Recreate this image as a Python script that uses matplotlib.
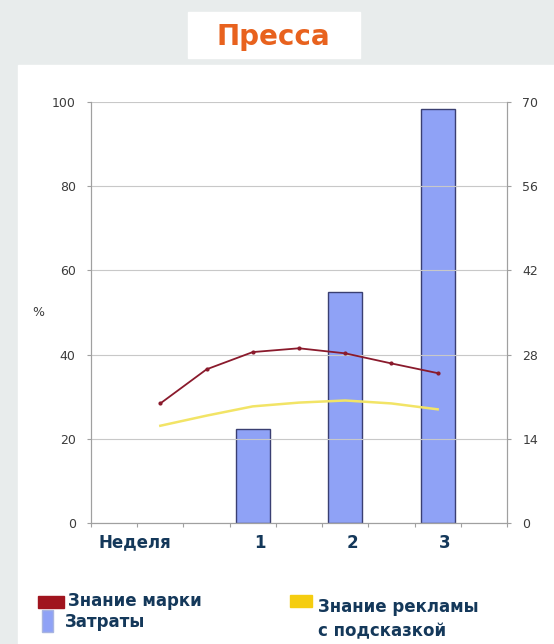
import matplotlib.pyplot as plt
from matplotlib.patches import Rectangle

# данные
weeks = ['Неделя', '', '', '1', '', '2', '', '3', '']
line_x = [1, 2, 3, 4, 5, 6, 7]
brand = [28.4, 36.5, 40.6, 41.5, 40.3, 37.9, 35.6]
ad_aided = [23.1, 25.5, 27.7, 28.6, 29.1, 28.4, 27.0]
bar_x = [3, 5, 7]
spend = [15.7, 38.4, 68.8]

navy = '#14385a'
gray_txt = '#3c3c3c'

fig = plt.figure(figsize=(5.54, 6.44), dpi=100)
fig.patch.set_facecolor('#e8ecec')

# белая подложка и плашка заголовка
fig.patches.append(Rectangle((18 / 554, 0), 1, (644 - 65) / 644,
                             transform=fig.transFigure, color='white', zorder=-5))
fig.patches.append(Rectangle((188 / 554, 1 - 58 / 644), 172 / 554, 46 / 644,
                             transform=fig.transFigure, color='white', zorder=-5))
fig.text(273 / 554, 1 - 37 / 644, 'Пресса', color='#e8621e', fontsize=20,
         fontweight='bold', ha='center', va='center')

ax = fig.add_axes([91 / 554, (644 - 523) / 644, 416 / 554, 421 / 644])
ax2 = ax.twinx()

ax2.bar(bar_x, spend, width=0.73, color='#8fa2f6', edgecolor='#3a3f72', linewidth=1)
ax2.set_ylim(0, 70)
ax2.set_yticks([0, 14, 28, 42, 56, 70])

ax.set_zorder(ax2.get_zorder() + 1)
ax.patch.set_visible(False)
ax.plot(line_x, brand, color='#8a1a2c', lw=1.3, marker='o', ms=2)
ax.plot(line_x, ad_aided, color='#f2e466', lw=1.8)
ax.set_ylim(0, 100)
ax.set_yticks([0, 20, 40, 60, 80, 100])
ax.set_xlim(-0.5, 8.5)
ax.grid(axis='y', color='#c8c8c8', lw=0.8)

ax.set_xticks([i + 0.5 for i in range(-1, 9)])
ax.set_xticklabels([])
ax.tick_params(axis='x', length=3, color='#a0a0a0')
for i, lab in enumerate(weeks):
    if lab:
        xx = i + 0.45 if i == 0 else i + 0.15
        ax.text(xx, -0.025, lab, transform=ax.get_xaxis_transform(), ha='center',
                va='top', fontsize=12, fontweight='bold', color=navy)

for a in (ax, ax2):
    a.spines['top'].set_visible(False)
    for s in ('left', 'right', 'bottom'):
        a.spines[s].set_color('#a0a0a0')
    a.tick_params(axis='y', labelsize=9, labelcolor=gray_txt, color='#a0a0a0', length=3)
ax2.tick_params(axis='y', pad=8)
ax.tick_params(axis='y', pad=8)

fig.text(38 / 554, 1 - 312 / 644, '%', fontsize=9, color=gray_txt, ha='center', va='center')

# легенда
fig.patches.append(Rectangle((38 / 554, 1 - 608 / 644), 26 / 554, 12 / 644,
                             transform=fig.transFigure, color='#a0141e'))
fig.patches.append(Rectangle((42 / 554, 1 - 632 / 644), 11 / 554, 22 / 644,
                             transform=fig.transFigure, facecolor='#8fa2f6', edgecolor='#a8b4e0'))
fig.patches.append(Rectangle((290 / 554, 1 - 607 / 644), 22 / 554, 12 / 644,
                             transform=fig.transFigure, color='#f5cd10'))
fig.text(68 / 554, 1 - 601 / 644, 'Знание марки', fontsize=12, fontweight='bold',
         color=navy, va='center')
fig.text(65 / 554, 1 - 622 / 644, 'Затраты', fontsize=12, fontweight='bold',
         color=navy, va='center')
fig.text(318 / 554, 1 - 619 / 644, 'Знание рекламы\nс подсказкой', fontsize=12,
         fontweight='bold', color=navy, va='center', linespacing=1.45)

fig.savefig('out.png', dpi=100, facecolor=fig.get_facecolor())
